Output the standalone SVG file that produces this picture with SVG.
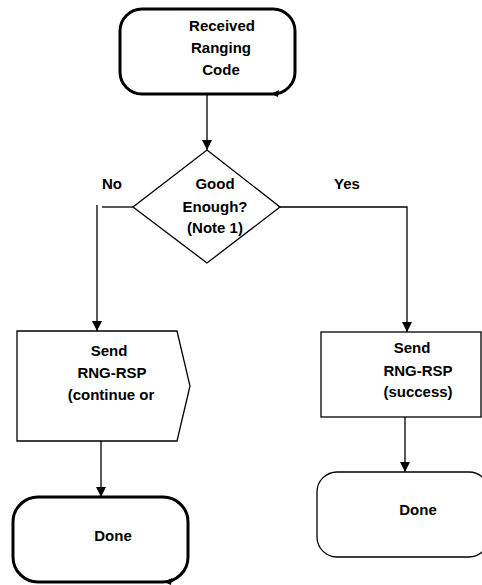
<svg xmlns="http://www.w3.org/2000/svg" width="482" height="585" viewBox="0 0 482 585">
<defs>
<marker id="arr" markerWidth="10" markerHeight="10" refX="10" refY="5" orient="auto" markerUnits="userSpaceOnUse">
<path d="M0,0 L10,5 L0,10 Z" fill="#000"/>
</marker>
</defs>
<style>
.t{font-family:"Liberation Sans",Arial,sans-serif;font-weight:bold;font-size:15px;fill:#000;text-anchor:middle}
.thick{fill:#fff;stroke:#000;stroke-width:3}
.thin{fill:#fff;stroke:#000;stroke-width:1.5}
.ln{fill:none;stroke:#000;stroke-width:1.3}
</style>
<rect width="482" height="585" fill="#fff"/>
<g id="connectors">
<line class="ln" x1="207" y1="94" x2="207" y2="150" marker-end="url(#arr)"/>
<line class="ln" x1="133" y1="207" x2="102" y2="207"/>
<line class="ln" x1="97" y1="205" x2="97" y2="331" marker-end="url(#arr)"/>
<polyline class="ln" points="280,207 407,207 407,332" marker-end="url(#arr)"/>
<line class="ln" x1="101" y1="441" x2="101" y2="497" marker-end="url(#arr)"/>
<line class="ln" x1="405" y1="417" x2="405" y2="472" marker-end="url(#arr)"/>
<text class="t" x="112" y="189">No</text>
<text class="t" x="347" y="189">Yes</text>
</g>
<g id="start">
<rect class="thick" x="120" y="9" width="175" height="85" rx="22" ry="22"/>
<path d="M271,94 L279,90 L278,97 Z" fill="#000"/>
<text class="t" x="222" y="31">Received</text>
<text class="t" x="221" y="53">Ranging</text>
<text class="t" x="221" y="75">Code</text>
</g>
<g id="decision">
<polygon class="thin" style="stroke-width:1.3" points="207,150 280,207 207,263 133,207"/>
<text class="t" x="215" y="189">Good</text>
<text class="t" x="215" y="212">Enough?</text>
<text class="t" x="215" y="233">(Note 1)</text>
</g>
<g id="send-continue">
<polygon class="thin" style="stroke-width:1.3" points="17,331 177,331 190,386 177,441 17,441"/>
<text class="t" x="109" y="356">Send</text>
<text class="t" x="112" y="378">RNG-RSP</text>
<text class="t" x="111" y="400">(continue or</text>
</g>
<g id="send-success">
<rect class="thin" style="stroke-width:1.3" x="321" y="332" width="160" height="85"/>
<text class="t" x="412" y="353">Send</text>
<text class="t" x="418" y="376">RNG-RSP</text>
<text class="t" x="418" y="397">(success)</text>
</g>
<g id="done-left">
<rect class="thick" x="13" y="497" width="175" height="85" rx="25" ry="25"/>
<path d="M164,582 L172,578 L171,585 Z" fill="#000"/>
<text class="t" x="113" y="541">Done</text>
</g>
<g id="done-right">
<rect class="thin" style="stroke-width:1.3" x="317" y="472" width="172" height="85" rx="20" ry="20"/>
<text class="t" x="418" y="515">Done</text>
</g>
</svg>
